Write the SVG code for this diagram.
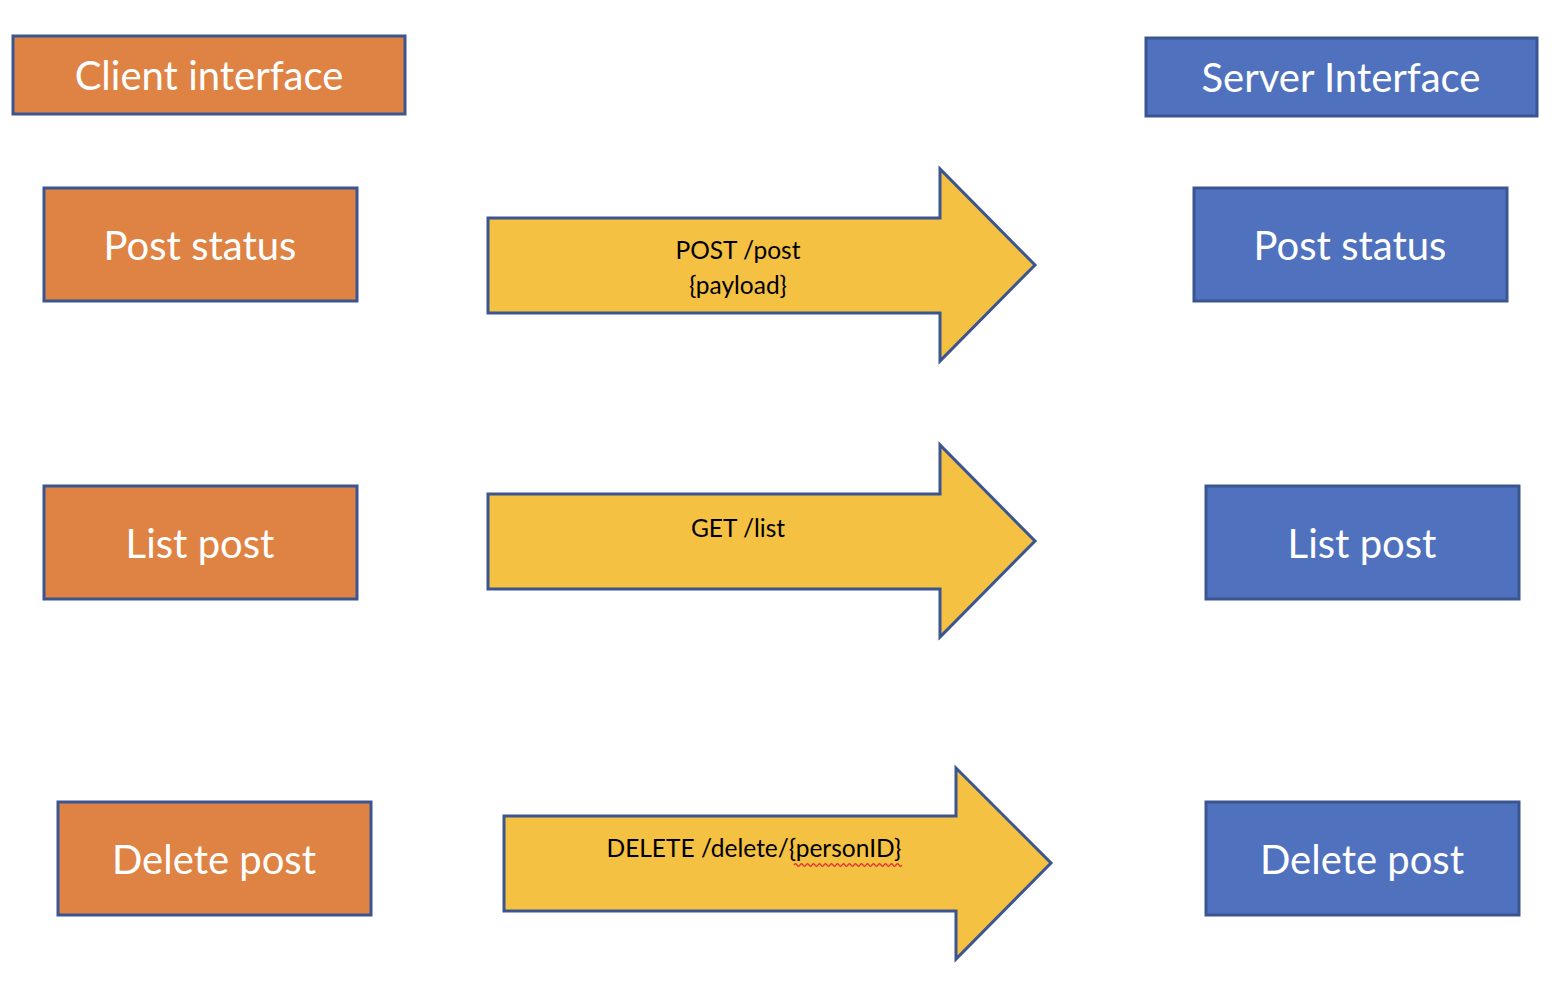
<svg xmlns="http://www.w3.org/2000/svg" width="1566" height="1000" viewBox="0 0 1566 1000">
<style>
.client{fill:#DF8344;stroke:#3A5590;stroke-width:3}
.server{fill:#5072BE;stroke:#3A5590;stroke-width:3}
.arrow{fill:#F4C143;stroke:#3A5590;stroke-width:3;stroke-linejoin:miter}
.lbl{font-family:Lato,"Liberation Sans",sans-serif;font-size:40px;fill:#FFFFFF;text-anchor:middle}
.alb{font-family:Lato,"Liberation Sans",sans-serif;font-size:24.5px;fill:#000000;text-anchor:middle}
</style>
<rect width="1566" height="1000" fill="#FFFFFF"/>
<g id="client-interface"><rect class="client" x="13" y="36" width="392" height="78"/><text class="lbl" x="209" y="90">Client interface</text></g>
<g id="server-interface"><rect class="server" x="1146" y="38" width="391" height="78"/><text class="lbl" x="1341" y="92">Server Interface</text></g>
<g id="client-post-status"><rect class="client" x="44" y="188" width="313" height="113"/><text class="lbl" x="200" y="260">Post status</text></g>
<g id="client-list-post"><rect class="client" x="44" y="486" width="313" height="113"/><text class="lbl" x="200" y="558">List post</text></g>
<g id="client-delete-post"><rect class="client" x="58" y="802" width="313" height="113"/><text class="lbl" x="214" y="874">Delete post</text></g>
<g id="server-post-status"><rect class="server" x="1194" y="188" width="313" height="113"/><text class="lbl" x="1350" y="260">Post status</text></g>
<g id="server-list-post"><rect class="server" x="1206" y="486" width="313" height="113"/><text class="lbl" x="1362" y="558">List post</text></g>
<g id="server-delete-post"><rect class="server" x="1206" y="802" width="313" height="113"/><text class="lbl" x="1362" y="874">Delete post</text></g>
<g id="connectors">
<g id="arrow-post"><polygon class="arrow" points="488,218 940,218 940,169 1035,265 940,361 940,313 488,313"/><text class="alb" x="738" y="259">POST /post</text><text class="alb" x="738" y="294">{payload}</text></g>
<g id="arrow-list"><polygon class="arrow" points="488,494 940,494 940,445 1035,541 940,637 940,589 488,589"/><text class="alb" x="738" y="537">GET /list</text></g>
<g id="arrow-delete"><polygon class="arrow" points="504,816 956,816 956,768 1051,863 956,959 956,911 504,911"/><text class="alb" x="754" y="857">DELETE /delete/{personID}</text><path d="M794,865 q1.5,-2.5 3,0 t3,0 t3,0 t3,0 t3,0 t3,0 t3,0 t3,0 t3,0 t3,0 t3,0 t3,0 t3,0 t3,0 t3,0 t3,0 t3,0 t3,0 t3,0 t3,0 t3,0 t3,0 t3,0 t3,0 t3,0 t3,0 t3,0 t3,0 t3,0 t3,0 t3,0 t3,0 t3,0 t3,0 t3,0 t3,0" fill="none" stroke="#E03030" stroke-width="1.4"/></g>
</g>
</svg>
